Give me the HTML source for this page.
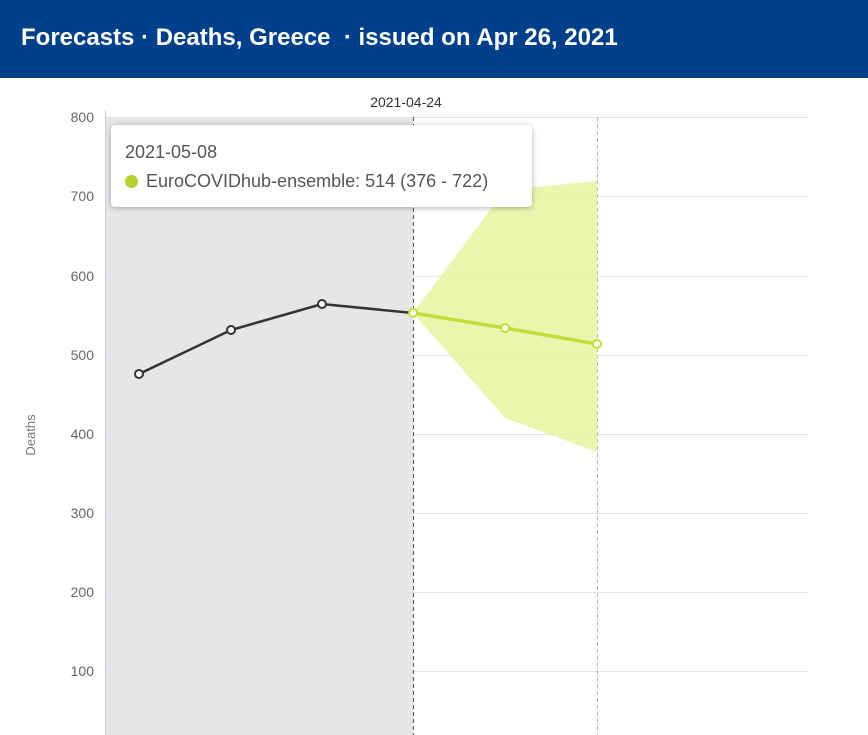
<!DOCTYPE html>
<html><head><meta charset="utf-8"><style>
body{margin:0;width:868px;height:735px;overflow:hidden;background:#fff;font-family:"Liberation Sans",sans-serif;}
.hdr{position:absolute;left:0;top:0;width:868px;height:78px;background:#003f8a;color:#fff;font-weight:bold;font-size:24px;line-height:76px;padding-left:21px;box-sizing:border-box;}
.tip{position:absolute;left:111px;top:125px;width:421px;height:82px;background:#fff;border-radius:4px;box-shadow:0 1px 6px rgba(0,0,0,.3);color:#555;font-size:18px;}
</style></head><body>
<div class="hdr">Forecasts · Deaths, Greece &nbsp;· issued on Apr 26, 2021</div>
<svg width="868" height="735" style="position:absolute;left:0;top:0" font-family="Liberation Sans, sans-serif">
<rect x="105" y="117" width="308" height="620" fill="#e6e6e6"/>
<g stroke="#e0e4ec" stroke-width="1">
<line x1="105" y1="117.5" x2="808" y2="117.5"/><line x1="105" y1="196.5" x2="808" y2="196.5"/>
<line x1="105" y1="276.5" x2="808" y2="276.5"/><line x1="105" y1="355.5" x2="808" y2="355.5"/>
<line x1="105" y1="434.5" x2="808" y2="434.5"/><line x1="105" y1="513.5" x2="808" y2="513.5"/>
<line x1="105" y1="592.5" x2="808" y2="592.5"/><line x1="105" y1="671.5" x2="808" y2="671.5"/>
</g>
<line x1="105.5" y1="110" x2="105.5" y2="735" stroke="#ccd" />
<g fill="#666" font-size="14" text-anchor="end">
<text x="94" y="122">800</text><text x="94" y="201">700</text><text x="94" y="281">600</text><text x="94" y="360">500</text>
<text x="94" y="439">400</text><text x="94" y="518">300</text><text x="94" y="597">200</text><text x="94" y="676">100</text>
</g>
<text x="35" y="435" fill="#777" font-size="13" text-anchor="middle" transform="rotate(-90 35 435)">Deaths</text>
<text x="406" y="107" fill="#333" font-size="14" text-anchor="middle">2021-04-24</text>
<polygon points="413,313 505,190 597,181 597,452 505,418" fill="#e6f29a" opacity="0.8"/>
<line x1="413.5" y1="117" x2="413.5" y2="735" stroke="#555" stroke-dasharray="4,3"/>
<line x1="597.5" y1="117" x2="597.5" y2="735" stroke="#bbb" stroke-dasharray="4,3"/>
<polyline points="139,374 231,330 322,304 413,313" fill="none" stroke="#333" stroke-width="2.5"/>
<polyline points="413,313 505,328 597,344" fill="none" stroke="#c4dc3a" stroke-width="3.5"/>
<g fill="#fff" stroke="#333" stroke-width="2"><circle cx="139" cy="374" r="4"/><circle cx="231" cy="330" r="4"/><circle cx="322" cy="304" r="4"/></g>
<g fill="#fff" stroke="#c4dc3a" stroke-width="2"><circle cx="413" cy="313" r="4"/><circle cx="505" cy="328" r="4"/><circle cx="597" cy="344" r="4"/></g>
</svg>
<div class="tip"><div style="position:absolute;left:14px;top:17px">2021-05-08</div>
<div style="position:absolute;left:14px;top:46px;white-space:nowrap"><span style="display:inline-block;width:13px;height:13px;border-radius:50%;background:#b8d132;margin-right:8px;vertical-align:-1px"></span>EuroCOVIDhub-ensemble: 514 (376 - 722)</div></div>
</body></html>
